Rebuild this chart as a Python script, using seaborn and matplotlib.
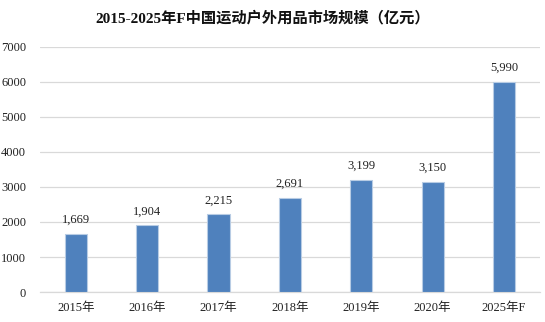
import matplotlib
matplotlib.use("Agg")
import matplotlib.pyplot as plt
import seaborn as sns
import pandas as pd

years = ["2015年", "2016年", "2017年", "2018年", "2019年", "2020年", "2025年F"]
market_size = [1669, 1904, 2215, 2691, 3199, 3150, 5990]
y_ticks = [0, 1000, 2000, 3000, 4000, 5000, 6000, 7000]
title = "2015-2025年F中国运动户外用品市场规模（亿元）"

sns.set_theme(style="white")
plt.rcParams["font.family"] = ["Liberation Serif", "Noto Sans CJK SC", "DejaVu Sans"]

df = pd.DataFrame({"year": years, "size": market_size})

fig = plt.figure(figsize=(5.45, 3.22), dpi=100)
ax = fig.add_axes([0.0734, 0.093, 0.917, 0.762])

sns.barplot(data=df, x="year", y="size", color="#4F81BD", width=0.31,
            edgecolor="#B8CCE4", linewidth=0.8, saturation=1, ax=ax, zorder=3)

ax.set_ylim(0, 7000)
ax.set_yticks(y_ticks)
ax.set_xlim(-0.5, len(years) - 0.5)
ax.yaxis.grid(True, color="#D9D9D9", linewidth=0.9, zorder=0)
ax.set_axisbelow(True)
for side in ["top", "right", "left"]:
    ax.spines[side].set_visible(False)
ax.spines["bottom"].set_color("#D9D9D9")
ax.spines["bottom"].set_linewidth(0.9)
ax.set_xlabel("")
ax.set_ylabel("")
ax.tick_params(axis="both", length=0, labelsize=9, colors="#222222")
ax.tick_params(axis="x", pad=7)
ax.tick_params(axis="y", pad=10)

for i, v in enumerate(market_size):
    ax.text(i, v + 230, f"{v:,}", ha="center", va="bottom", fontsize=9, color="#222222")

fig.text(0.482, 0.945, title, ha="center", va="center", fontsize=11,
         fontweight="bold", color="#111111")

fig.savefig("out.png", dpi=100)
